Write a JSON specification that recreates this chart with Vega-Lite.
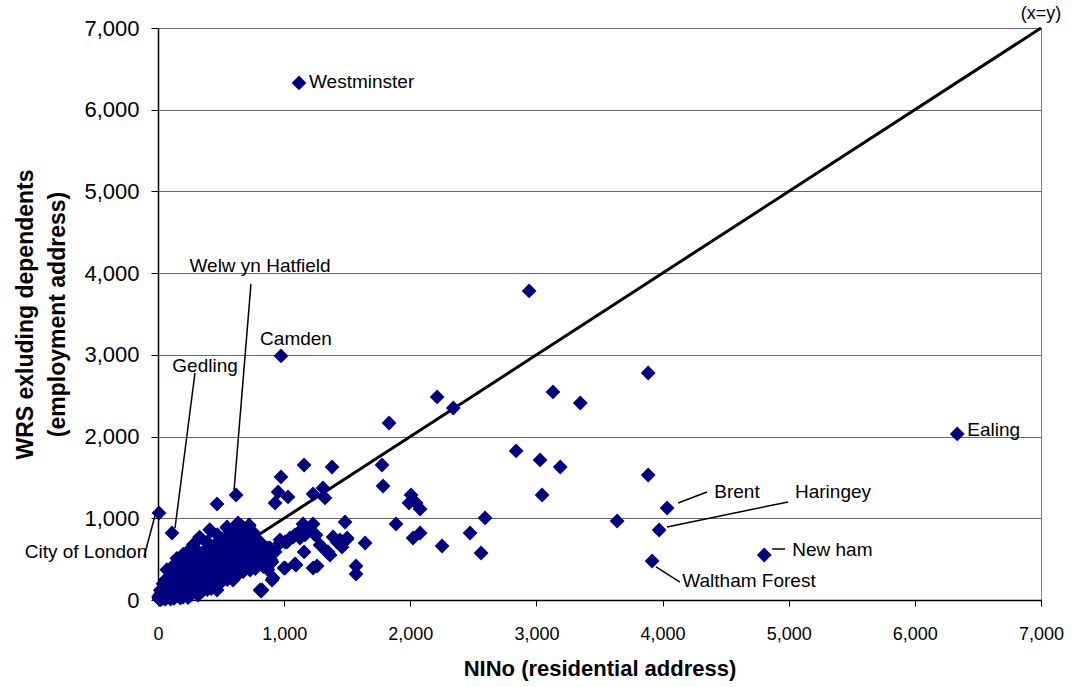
{
  "$schema": "https://vega.github.io/schema/vega-lite/v6.json",
  "width": 883,
  "height": 572,
  "autosize": "none",
  "padding": {"left": 158, "top": 28, "right": 33, "bottom": 87},
  "config": {
    "font": "Liberation Sans",
    "view": {"stroke": "#808080", "strokeWidth": 1},
    "axis": {"domainColor": "#000", "tickColor": "#000", "labelColor": "#000", "titleColor": "#000", "gridColor": "#666"}
  },
  "datasets": {
    "diag": [{"nino": 0, "wrs": 0}, {"nino": 7000, "wrs": 7000}],
    "labels": [
      {"text": "Westminster", "lx": 1197, "ly": 6340, "anchor": "left"},
      {"text": "Ealing", "lx": 6415, "ly": 2081, "anchor": "left"},
      {"text": "New ham", "lx": 5028, "ly": 612, "anchor": "left"},
      {"text": "Camden", "lx": 1094, "ly": 3195, "anchor": "center"},
      {"text": "Welw yn Hatfield", "lx": 809, "ly": 4088, "anchor": "center"},
      {"text": "Gedling", "lx": 373, "ly": 2864, "anchor": "center"},
      {"text": "City of London", "lx": -571, "ly": 588, "anchor": "center"},
      {"text": "Brent", "lx": 4590, "ly": 1322, "anchor": "center"},
      {"text": "Haringey", "lx": 5351, "ly": 1322, "anchor": "center"},
      {"text": "Waltham Forest", "lx": 4685, "ly": 233, "anchor": "center"},
      {"text": "(x=y)", "lx": 7000, "ly": 7173, "anchor": "small"}
    ],
    "leaders": [
      {"x1": 737, "y1": 3868, "x2": 603, "y2": 1346},
      {"x1": 293, "y1": 2778, "x2": 135, "y2": 881},
      {"x1": -111, "y1": 526, "x2": -8, "y2": 1126},
      {"x1": 4123, "y1": 1187, "x2": 4352, "y2": 1322},
      {"x1": 4035, "y1": 894, "x2": 4995, "y2": 1200},
      {"x1": 3948, "y1": 404, "x2": 4138, "y2": 220},
      {"x1": 4868, "y1": 624, "x2": 4971, "y2": 624}
    ],
    "points": [
      {"nino": 1118, "wrs": 6328, "area": "Westminster"},
      {"nino": 975, "wrs": 2987, "area": "Camden"},
      {"nino": 619, "wrs": 1285, "area": "Welwyn Hatfield"},
      {"nino": 111, "wrs": 820, "area": "Gedling"},
      {"nino": 8, "wrs": 1065, "area": "City of London"},
      {"nino": 6336, "wrs": 2032, "area": "Ealing"},
      {"nino": 4036, "wrs": 1126, "area": "Brent"},
      {"nino": 3973, "wrs": 857, "area": "Haringey"},
      {"nino": 3917, "wrs": 477, "area": "Waltham Forest"},
      {"nino": 4806, "wrs": 551, "area": "Newham"},
      {"nino": 3886, "wrs": 2778}, {"nino": 3886, "wrs": 1530}, {"nino": 3640, "wrs": 967},
      {"nino": 2213, "wrs": 2485}, {"nino": 2341, "wrs": 2350}, {"nino": 3131, "wrs": 2546},
      {"nino": 3348, "wrs": 2411}, {"nino": 2839, "wrs": 1824}, {"nino": 3029, "wrs": 1714},
      {"nino": 3189, "wrs": 1628}, {"nino": 3045, "wrs": 1285}, {"nino": 2593, "wrs": 1004},
      {"nino": 2474, "wrs": 820}, {"nino": 2252, "wrs": 661}, {"nino": 2561, "wrs": 575},
      {"nino": 2942, "wrs": 3782}, {"nino": 1832, "wrs": 2166}, {"nino": 1158, "wrs": 1652},
      {"nino": 1380, "wrs": 1628}, {"nino": 975, "wrs": 1506}, {"nino": 952, "wrs": 1322},
      {"nino": 1031, "wrs": 1261}, {"nino": 928, "wrs": 1187}, {"nino": 1229, "wrs": 1297},
      {"nino": 1308, "wrs": 1371}, {"nino": 1324, "wrs": 1249}, {"nino": 1776, "wrs": 1652},
      {"nino": 1784, "wrs": 1395}, {"nino": 2006, "wrs": 1285}, {"nino": 1990, "wrs": 1187},
      {"nino": 2046, "wrs": 1187}, {"nino": 2078, "wrs": 1114}, {"nino": 468, "wrs": 1175},
      {"nino": 420, "wrs": 845}, {"nino": 389, "wrs": 698}, {"nino": 547, "wrs": 881},
      {"nino": 626, "wrs": 918}, {"nino": 722, "wrs": 906}, {"nino": 1150, "wrs": 930},
      {"nino": 1229, "wrs": 930}, {"nino": 1483, "wrs": 955}, {"nino": 1887, "wrs": 930},
      {"nino": 2022, "wrs": 759}, {"nino": 2078, "wrs": 820}, {"nino": 1642, "wrs": 698},
      {"nino": 1388, "wrs": 771}, {"nino": 1443, "wrs": 734}, {"nino": 1499, "wrs": 759},
      {"nino": 1253, "wrs": 796}, {"nino": 1158, "wrs": 588}, {"nino": 1285, "wrs": 673},
      {"nino": 1348, "wrs": 588}, {"nino": 1086, "wrs": 441}, {"nino": 1229, "wrs": 392},
      {"nino": 1261, "wrs": 416}, {"nino": 1570, "wrs": 416}, {"nino": 1570, "wrs": 318},
      {"nino": 999, "wrs": 392}, {"nino": 912, "wrs": 269}, {"nino": 817, "wrs": 110},
      {"nino": 872, "wrs": 636}, {"nino": 809, "wrs": 698}, {"nino": 896, "wrs": 490},
      {"nino": 967, "wrs": 736}, {"nino": 1023, "wrs": 710}, {"nino": 1071, "wrs": 771},
      {"nino": 1110, "wrs": 820}, {"nino": 1150, "wrs": 832}, {"nino": 1205, "wrs": 857},
      {"nino": 888, "wrs": 636}, {"nino": 928, "wrs": 588}, {"nino": 967, "wrs": 698},
      {"nino": 1007, "wrs": 710}, {"nino": 1047, "wrs": 759}, {"nino": 1086, "wrs": 796},
      {"nino": 1126, "wrs": 759}, {"nino": 1166, "wrs": 796}, {"nino": 1245, "wrs": 796},
      {"nino": 1419, "wrs": 710}, {"nino": 1459, "wrs": 649}, {"nino": 1499, "wrs": 747},
      {"nino": 1340, "wrs": 588}, {"nino": 1364, "wrs": 551}, {"nino": 833, "wrs": 490},
      {"nino": 904, "wrs": 465}, {"nino": 1007, "wrs": 392}, {"nino": 1094, "wrs": 428},
      {"nino": 825, "wrs": 122},
      {"nino": 8, "wrs": 15}, {"nino": 14, "wrs": 62}, {"nino": 21, "wrs": 4}, {"nino": 27, "wrs": 98},
      {"nino": 33, "wrs": 37}, {"nino": 39, "wrs": 151}, {"nino": 46, "wrs": 72}, {"nino": 52, "wrs": 18},
      {"nino": 57, "wrs": 124}, {"nino": 63, "wrs": 203}, {"nino": 69, "wrs": 49}, {"nino": 74, "wrs": 167},
      {"nino": 81, "wrs": 91}, {"nino": 87, "wrs": 262}, {"nino": 93, "wrs": 28}, {"nino": 98, "wrs": 139},
      {"nino": 104, "wrs": 214}, {"nino": 111, "wrs": 66}, {"nino": 117, "wrs": 305}, {"nino": 122, "wrs": 176},
      {"nino": 129, "wrs": 112}, {"nino": 134, "wrs": 43}, {"nino": 141, "wrs": 248}, {"nino": 147, "wrs": 357},
      {"nino": 152, "wrs": 94}, {"nino": 158, "wrs": 193}, {"nino": 165, "wrs": 281}, {"nino": 171, "wrs": 136},
      {"nino": 177, "wrs": 22}, {"nino": 183, "wrs": 402}, {"nino": 189, "wrs": 227}, {"nino": 196, "wrs": 164},
      {"nino": 203, "wrs": 333}, {"nino": 209, "wrs": 71}, {"nino": 214, "wrs": 268}, {"nino": 221, "wrs": 445},
      {"nino": 227, "wrs": 188}, {"nino": 233, "wrs": 119}, {"nino": 240, "wrs": 372}, {"nino": 246, "wrs": 297},
      {"nino": 252, "wrs": 53}, {"nino": 259, "wrs": 231}, {"nino": 265, "wrs": 488}, {"nino": 271, "wrs": 158},
      {"nino": 277, "wrs": 341}, {"nino": 284, "wrs": 410}, {"nino": 290, "wrs": 262}, {"nino": 296, "wrs": 96},
      {"nino": 303, "wrs": 527}, {"nino": 309, "wrs": 204}, {"nino": 315, "wrs": 387}, {"nino": 322, "wrs": 301},
      {"nino": 328, "wrs": 143}, {"nino": 334, "wrs": 456}, {"nino": 341, "wrs": 571}, {"nino": 347, "wrs": 249},
      {"nino": 353, "wrs": 358}, {"nino": 360, "wrs": 182}, {"nino": 366, "wrs": 493}, {"nino": 372, "wrs": 421},
      {"nino": 379, "wrs": 293}, {"nino": 385, "wrs": 612}, {"nino": 391, "wrs": 127}, {"nino": 398, "wrs": 344},
      {"nino": 404, "wrs": 536}, {"nino": 410, "wrs": 223}, {"nino": 417, "wrs": 451}, {"nino": 423, "wrs": 658},
      {"nino": 429, "wrs": 318}, {"nino": 436, "wrs": 387}, {"nino": 442, "wrs": 167}, {"nino": 448, "wrs": 579},
      {"nino": 455, "wrs": 496}, {"nino": 461, "wrs": 271}, {"nino": 467, "wrs": 702}, {"nino": 474, "wrs": 411},
      {"nino": 480, "wrs": 352}, {"nino": 486, "wrs": 625}, {"nino": 493, "wrs": 204}, {"nino": 499, "wrs": 538},
      {"nino": 505, "wrs": 449}, {"nino": 512, "wrs": 748}, {"nino": 518, "wrs": 309}, {"nino": 524, "wrs": 597},
      {"nino": 531, "wrs": 381}, {"nino": 537, "wrs": 672}, {"nino": 543, "wrs": 487}, {"nino": 550, "wrs": 251},
      {"nino": 556, "wrs": 787}, {"nino": 562, "wrs": 562}, {"nino": 569, "wrs": 426}, {"nino": 575, "wrs": 693},
      {"nino": 581, "wrs": 338}, {"nino": 588, "wrs": 826}, {"nino": 594, "wrs": 519}, {"nino": 600, "wrs": 612},
      {"nino": 607, "wrs": 447}, {"nino": 613, "wrs": 735}, {"nino": 619, "wrs": 289}, {"nino": 626, "wrs": 868},
      {"nino": 632, "wrs": 574}, {"nino": 638, "wrs": 661}, {"nino": 645, "wrs": 397}, {"nino": 651, "wrs": 791},
      {"nino": 657, "wrs": 501}, {"nino": 664, "wrs": 905}, {"nino": 670, "wrs": 622}, {"nino": 676, "wrs": 347},
      {"nino": 683, "wrs": 714}, {"nino": 689, "wrs": 539}, {"nino": 695, "wrs": 838}, {"nino": 702, "wrs": 448},
      {"nino": 708, "wrs": 652}, {"nino": 714, "wrs": 761}, {"nino": 721, "wrs": 584}, {"nino": 727, "wrs": 402},
      {"nino": 733, "wrs": 703}, {"nino": 740, "wrs": 522}, {"nino": 746, "wrs": 612}, {"nino": 752, "wrs": 456},
      {"nino": 759, "wrs": 647}, {"nino": 765, "wrs": 558}, {"nino": 772, "wrs": 384}, {"nino": 778, "wrs": 690},
      {"nino": 785, "wrs": 495}, {"nino": 791, "wrs": 573}, {"nino": 798, "wrs": 434}, {"nino": 805, "wrs": 616},
      {"nino": 812, "wrs": 520}, {"nino": 820, "wrs": 468}, {"nino": 828, "wrs": 598}, {"nino": 836, "wrs": 410},
      {"nino": 845, "wrs": 540}, {"nino": 853, "wrs": 488}, {"nino": 862, "wrs": 604}, {"nino": 871, "wrs": 372},
      {"nino": 880, "wrs": 531}, {"nino": 891, "wrs": 455}, {"nino": 902, "wrs": 592},
      {"nino": 5, "wrs": 40}, {"nino": 11, "wrs": 8}, {"nino": 19, "wrs": 120}, {"nino": 24, "wrs": 55},
      {"nino": 31, "wrs": 16}, {"nino": 37, "wrs": 82}, {"nino": 44, "wrs": 30}, {"nino": 50, "wrs": 58},
      {"nino": 56, "wrs": 10}, {"nino": 62, "wrs": 95}, {"nino": 68, "wrs": 24}, {"nino": 76, "wrs": 60},
      {"nino": 84, "wrs": 142}, {"nino": 91, "wrs": 75}, {"nino": 100, "wrs": 12}, {"nino": 107, "wrs": 88},
      {"nino": 118, "wrs": 148}, {"nino": 127, "wrs": 20}, {"nino": 136, "wrs": 70}, {"nino": 148, "wrs": 170},
      {"nino": 160, "wrs": 50}, {"nino": 172, "wrs": 90}, {"nino": 185, "wrs": 120}, {"nino": 198, "wrs": 60},
      {"nino": 210, "wrs": 150}, {"nino": 224, "wrs": 100}, {"nino": 238, "wrs": 30}, {"nino": 255, "wrs": 140},
      {"nino": 268, "wrs": 80}, {"nino": 282, "wrs": 180}, {"nino": 300, "wrs": 120}, {"nino": 318, "wrs": 60},
      {"nino": 335, "wrs": 220}, {"nino": 352, "wrs": 110}, {"nino": 370, "wrs": 250}, {"nino": 388, "wrs": 190},
      {"nino": 405, "wrs": 280}, {"nino": 422, "wrs": 140}, {"nino": 440, "wrs": 320}, {"nino": 458, "wrs": 230},
      {"nino": 476, "wrs": 300}, {"nino": 495, "wrs": 350}, {"nino": 515, "wrs": 260}, {"nino": 535, "wrs": 400},
      {"nino": 555, "wrs": 330}, {"nino": 575, "wrs": 470}, {"nino": 598, "wrs": 380}, {"nino": 620, "wrs": 440},
      {"nino": 645, "wrs": 520}, {"nino": 668, "wrs": 460}, {"nino": 690, "wrs": 600}, {"nino": 712, "wrs": 500},
      {"nino": 735, "wrs": 560},
      {"nino": 70, "wrs": 370}, {"nino": 150, "wrs": 510}, {"nino": 250, "wrs": 615}, {"nino": 330, "wrs": 770},
      {"nino": 390, "wrs": 710}, {"nino": 410, "wrs": 860}, {"nino": 470, "wrs": 800}, {"nino": 547, "wrs": 894},
      {"nino": 580, "wrs": 760}, {"nino": 634, "wrs": 942}, {"nino": 680, "wrs": 880}, {"nino": 722, "wrs": 918},
      {"nino": 760, "wrs": 820}, {"nino": 809, "wrs": 710}, {"nino": 888, "wrs": 612}, {"nino": 904, "wrs": 245},
      {"nino": 809, "wrs": 122}, {"nino": 872, "wrs": 453}, {"nino": 730, "wrs": 367}, {"nino": 595, "wrs": 245},
      {"nino": 468, "wrs": 122}, {"nino": 333, "wrs": 122}, {"nino": 198, "wrs": 37}, {"nino": 120, "wrs": 420},
      {"nino": 200, "wrs": 560}, {"nino": 280, "wrs": 680}, {"nino": 300, "wrs": 620}, {"nino": 360, "wrs": 580},
      {"nino": 180, "wrs": 460}, {"nino": 240, "wrs": 500}, {"nino": 100, "wrs": 300}, {"nino": 60, "wrs": 250},
      {"nino": 40, "wrs": 200}
    ]
  },
  "encoding": {
    "x": {"type": "quantitative", "scale": {"domain": [0, 7000], "nice": false, "zero": false},
      "axis": {"title": "NINo (residential address)", "values": [0, 1000, 2000, 3000, 4000, 5000, 6000, 7000], "format": ",.0f", "grid": false,
        "tickSize": 6, "labelFontSize": 18, "labelPadding": 19, "labelFlush": false, "titleFontSize": 22, "titleFontWeight": "bold", "titlePadding": 15, "domainWidth": 1.5}},
    "y": {"type": "quantitative", "scale": {"domain": [0, 7000], "nice": false, "zero": false},
      "axis": {"title": ["WRS exluding dependents", "(employment address)"], "values": [0, 1000, 2000, 3000, 4000, 5000, 6000, 7000], "format": ",.0f", "grid": true, "gridColor": "#666",
        "tickSize": 7, "labelFontSize": 22, "labelPadding": 12, "labelFlush": false, "titleFontSize": 23, "titleFontWeight": "bold", "titlePadding": 14, "titleLineHeight": 32, "domainWidth": 1.5}}
  },
  "layer": [
    {
      "data": {"name": "diag"},
      "mark": {"type": "line", "color": "#000", "strokeWidth": 3},
      "encoding": {
        "x": {"field": "nino"},
        "y": {"field": "wrs"}
      }
    },
    {
      "data": {"name": "leaders"},
      "mark": {"type": "rule", "color": "#000", "strokeWidth": 1.5, "clip": false},
      "encoding": {
        "x": {"field": "x1"},
        "y": {"field": "y1"},
        "x2": {"field": "x2"},
        "y2": {"field": "y2"}
      }
    },
    {
      "data": {"name": "points"},
      "mark": {"type": "point", "shape": "diamond", "filled": true, "color": "#000080", "opacity": 1, "size": 220},
      "encoding": {
        "x": {"field": "nino"},
        "y": {"field": "wrs"}
      }
    },
    {
      "data": {"name": "labels"},
      "transform": [{"filter": "datum.anchor === 'left'"}],
      "mark": {"type": "text", "align": "left", "baseline": "middle", "fontSize": 19, "color": "#000"},
      "encoding": {
        "x": {"field": "lx"},
        "y": {"field": "ly"},
        "text": {"field": "text"}
      }
    },
    {
      "data": {"name": "labels"},
      "transform": [{"filter": "datum.anchor === 'center'"}],
      "mark": {"type": "text", "align": "center", "baseline": "middle", "fontSize": 19, "color": "#000"},
      "encoding": {
        "x": {"field": "lx"},
        "y": {"field": "ly"},
        "text": {"field": "text"}
      }
    },
    {
      "data": {"name": "labels"},
      "transform": [{"filter": "datum.anchor === 'small'"}],
      "mark": {"type": "text", "align": "center", "baseline": "middle", "fontSize": 18, "color": "#000"},
      "encoding": {
        "x": {"field": "lx"},
        "y": {"field": "ly"},
        "text": {"field": "text"}
      }
    }
  ]
}
